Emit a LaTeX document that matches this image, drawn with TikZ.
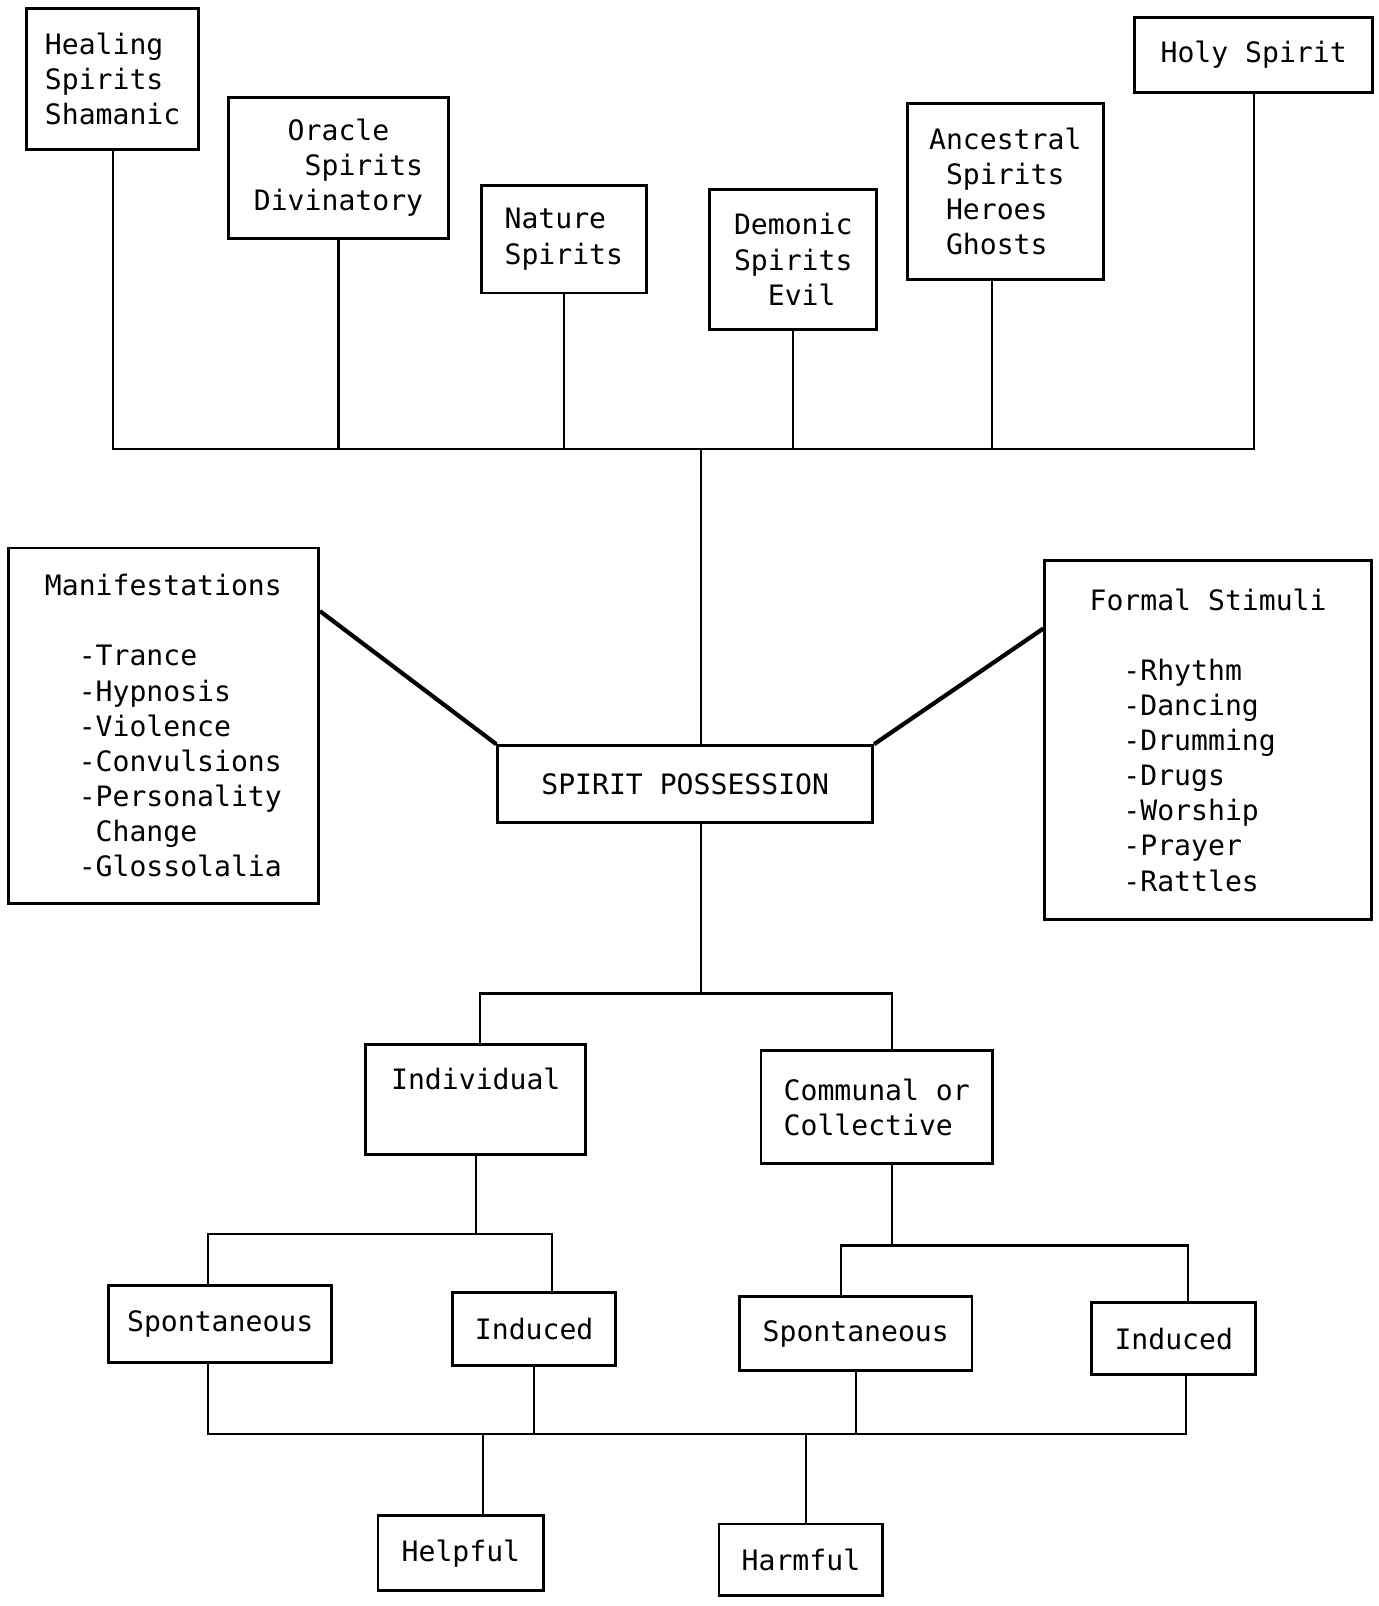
\documentclass[tikz,border=0pt]{standalone}
\usepackage{fontspec}
\setmainfont{DejaVu Sans Mono}
\newcommand\pxu{0.0205cm}
\tikzset{
  box/.style={draw,line width=1.6pt,inner sep=0pt,align=left,font=\fontsize{16}{20}\selectfont},
  sz/.style 2 args={minimum width=#1*\pxu,minimum height=#2*\pxu},
  wire/.style={line width=1.2pt},
  thickwire/.style={line width=2.4pt}
}

\begin{document}
\begin{tikzpicture}[x=\pxu,y=-\pxu]
\useasboundingbox (0,0) rectangle (1346,1568);

\node[box,sz={168}{138}] (heal) at (110,77) {Healing\\Spirits\\Shamanic};
\node[box,sz={215}{138}] (orac) at (330.5,164) {\phantom{Di}Oracle\\\phantom{Div}Spirits\\Divinatory};
\node[box,sz={161}{105}] (natu) at (550.5,233.5) {Nature\\Spirits};
\node[box,sz={163}{137}] (demo) at (774.5,253.5) {Demonic\\Spirits\\\phantom{De}Evil};
\node[box,sz={191}{172}] (ance) at (981.5,187) {Ancestral\\\phantom{A}Spirits\\\phantom{A}Heroes\\\phantom{A}Ghosts};
\node[box,sz={232}{73}] (holy) at (1224,53.5) {Holy Spirit};

\node[box,sz={303}{347}] (mani) at (159.5,708.5) {Manifestations\\[20pt]\phantom{Ma}-Trance\\\phantom{Ma}-Hypnosis\\\phantom{Ma}-Violence\\\phantom{Ma}-Convulsions\\\phantom{Ma}-Personality\\\phantom{Ma-}Change\\\phantom{Ma}-Glossolalia};
\node[box,sz={319}{351}] (form) at (1179.5,722.5) {Formal Stimuli\\[20pt]\phantom{Fo}-Rhythm\\\phantom{Fo}-Dancing\\\phantom{Fo}-Drumming\\\phantom{Fo}-Drugs\\\phantom{Fo}-Worship\\\phantom{Fo}-Prayer\\\phantom{Fo}-Rattles};
\node[box,sz={366}{75}] (poss) at (669,765.5) {SPIRIT POSSESSION};

\node[box,sz={215}{107},text height=0.43cm,text depth=0.82cm] (indi) at (464.5,1073.5) {Individual};
\node[box,sz={226}{110}] (comm) at (856,1081) {Communal or\\Collective};
\node[box,sz={218}{75}] (spo1) at (215,1292.5) {Spontaneous};
\node[box,sz={159}{71}] (ind1) at (521.5,1297.5) {Induced};
\node[box,sz={227}{72}] (spo2) at (835.5,1302) {Spontaneous};
\node[box,sz={160}{70}] (ind2) at (1146,1307) {Induced};
\node[box,sz={162}{73}] (help) at (450,1516.5) {Helpful};
\node[box,sz={160}{70}] (harm) at (782,1523) {Harmful};

\coordinate (busT) at (684,438);
\draw[wire] (heal.south) |- (busT) -| (holy.south);
\foreach \n in {orac,natu,demo}
  \draw[wire] (\n.south) -- (\n.south |- busT);
\draw[wire] ([xshift=-13*\pxu]ance.south) -- ([xshift=-13*\pxu]ance.south |- busT);
\draw[wire] (busT) -- (busT |- poss.north);

\draw[thickwire] ([yshift=-63*\pxu]mani.north east) -- (poss.north west);
\draw[thickwire] ([yshift=-68*\pxu]form.north west) -- (poss.north east);

\coordinate (sel) at (469,970);
\coordinate (ser) at (871,970);
\draw[wire] (busT |- poss.south) -- (busT |- sel);
\draw[wire] (sel |- indi.north) -- (sel) -- (ser) -- (ser |- comm.north);

\coordinate (il) at (203,1205);
\coordinate (ir) at (539,1205);
\draw[wire] (indi.south) -- (indi.south |- il);
\draw[wire] (il |- spo1.north) -- (il) -- (ir) -- (ir |- ind1.north);
\coordinate (cl) at (821,1216);
\coordinate (cr) at (1160,1216);
\draw[wire] (ser |- comm.south) -- (ser |- cl);
\draw[wire] (cl |- spo2.north) -- (cl) -- (cr) -- (cr |- ind2.north);

\coordinate (bl) at (203,1400);
\coordinate (br) at (1158,1400);
\draw[wire] (bl |- spo1.south) -- (bl) -- (br) -- (br |- ind2.south);
\draw[wire] (ind1.south) -- (ind1.south |- bl);
\draw[wire] (spo2.south) -- (spo2.south |- bl);
\coordinate (hl) at (472,1400);
\coordinate (hr) at (787,1400);
\draw[wire] (hl) -- (hl |- help.north);
\draw[wire] (hr) -- (hr |- harm.north);

\end{tikzpicture}
\end{document}
